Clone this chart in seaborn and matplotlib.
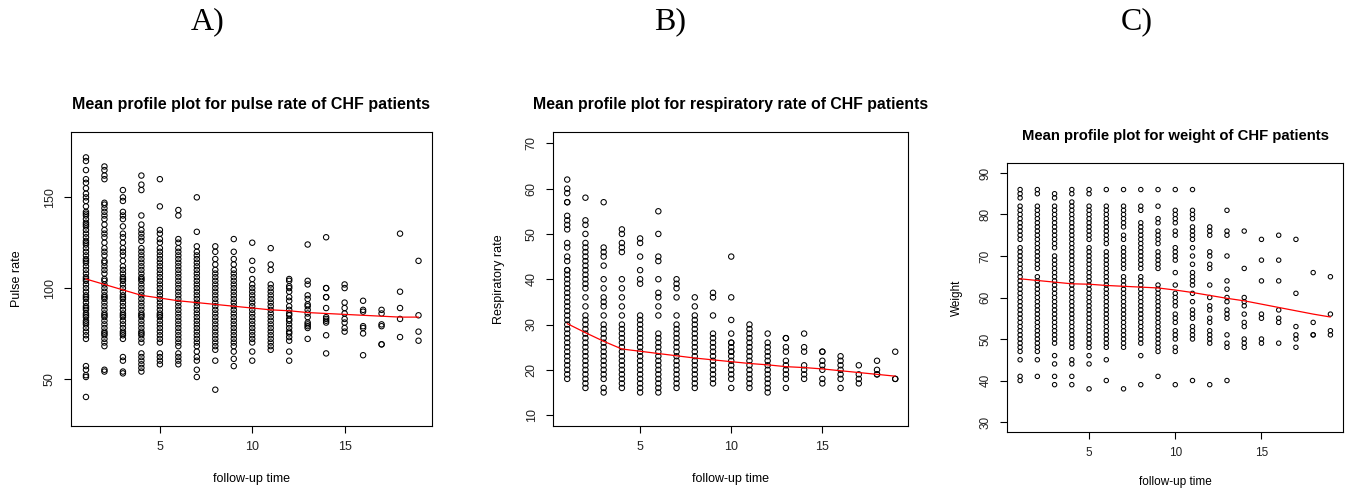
import matplotlib
matplotlib.use("Agg")
import matplotlib.pyplot as plt
import seaborn as sns
import pandas as pd

# ---------------- data ----------------
follow_up = [1, 2, 3, 4, 5, 6, 7, 8, 9, 10, 11, 12, 13, 14, 15, 16, 17, 18, 19]

pulse_by_time = [
    [40, 51, 52, 55, 57, 72, 74, 76, 78, 80, 81, 82, 84, 85, 86, 88, 89, 90, 92, 94, 95, 96, 98, 100, 102, 104,
     105, 106, 108, 110, 112, 114, 115, 116, 118, 120, 122, 124, 125, 126, 128, 130, 132, 134, 135, 136, 138,
     140, 141, 142, 145, 148, 150, 152, 155, 158, 160, 165, 170, 172],
    [54, 55, 68, 70, 72, 74, 75, 76, 78, 80, 82, 84, 85, 86, 88, 90, 92, 94, 95, 96, 98, 100, 102, 104, 105, 108,
     110, 112, 114, 115, 118, 120, 122, 125, 128, 130, 132, 135, 138, 140, 142, 144, 146, 147, 160, 162, 165, 167],
    [53, 54, 60, 62, 72, 74, 75, 76, 78, 80, 82, 84, 85, 86, 88, 90, 92, 94, 95, 96, 98, 100, 102, 104, 105, 106,
     108, 110, 112, 115, 118, 120, 122, 125, 128, 130, 134, 138, 140, 142, 148, 150, 154],
    [54, 56, 58, 60, 62, 64, 70, 72, 74, 75, 76, 78, 80, 82, 84, 85, 86, 88, 90, 92, 94, 96, 98, 100, 102, 104,
     105, 106, 108, 110, 112, 114, 116, 118, 120, 122, 126, 128, 130, 132, 135, 140, 154, 157, 162],
    [58, 60, 62, 64, 70, 72, 74, 76, 78, 80, 82, 84, 85, 86, 88, 90, 92, 94, 96, 98, 100, 102, 104, 106, 108,
     110, 112, 114, 116, 118, 120, 122, 125, 127, 130, 132, 145, 160],
    [58, 60, 62, 64, 68, 70, 72, 74, 76, 78, 80, 82, 84, 86, 88, 90, 92, 94, 96, 98, 100, 102, 104, 106, 108,
     110, 112, 114, 116, 118, 120, 122, 125, 127, 140, 143],
    [51, 55, 60, 62, 65, 68, 70, 72, 74, 76, 78, 80, 82, 84, 86, 88, 90, 92, 94, 96, 98, 100, 102, 104, 106,
     108, 110, 112, 114, 116, 118, 120, 123, 131, 150],
    [44, 60, 66, 68, 70, 72, 74, 76, 78, 80, 82, 84, 86, 88, 90, 92, 94, 96, 98, 100, 102, 104, 106, 108, 110,
     113, 116, 120, 123],
    [57, 61, 65, 68, 70, 72, 74, 76, 78, 80, 82, 84, 86, 88, 90, 92, 94, 96, 98, 100, 102, 104, 106, 108, 110,
     113, 116, 120, 127],
    [60, 65, 70, 72, 74, 76, 78, 80, 82, 84, 86, 88, 90, 92, 94, 96, 98, 100, 102, 105, 110, 115, 125],
    [66, 68, 70, 72, 74, 76, 78, 80, 82, 84, 86, 88, 90, 92, 94, 96, 98, 100, 102, 110, 113, 122],
    [60, 65, 71, 73, 75, 76, 78, 80, 82, 83, 85, 86, 88, 90, 93, 95, 98, 100, 101, 104, 105],
    [72, 78, 79, 80, 81, 84, 86, 88, 90, 91, 94, 96, 102, 104, 124],
    [64, 74, 81, 82, 83, 84, 89, 95, 95, 100, 100, 128],
    [76, 78, 81, 83, 86, 89, 92, 100, 102],
    [63, 75, 78, 79, 87, 88, 93],
    [69, 69, 79, 80, 86, 88],
    [73, 83, 89, 98, 130],
    [71, 76, 85, 115],
]
pulse_mean = [105, 102, 99, 96, 94.5, 93, 92, 91, 90, 89, 88, 87.5, 86.5, 86, 85.5, 85, 84.5, 84, 84]

resp_by_time = [
    [18, 19, 20, 21, 22, 23, 24, 25, 26, 27, 28, 29, 30, 31, 32, 33, 34, 35, 36, 37, 38, 39, 40, 41, 42, 42, 44,
     45, 47, 48, 51, 52, 53, 54, 57, 57, 59, 60, 62],
    [16, 17, 18, 19, 20, 21, 22, 23, 24, 25, 26, 27, 28, 29, 30, 31, 32, 34, 36, 38, 39, 40, 41, 42, 43, 44, 45,
     46, 47, 48, 50, 52, 53, 58],
    [15, 16, 18, 19, 20, 21, 22, 23, 24, 25, 26, 27, 28, 29, 30, 32, 34, 35, 36, 38, 40, 43, 45, 46, 47, 57],
    [16, 17, 18, 19, 20, 21, 22, 23, 24, 25, 26, 27, 28, 29, 30, 32, 34, 36, 38, 40, 46, 47, 48, 50, 51],
    [15, 16, 17, 18, 19, 20, 21, 22, 23, 24, 25, 26, 27, 28, 29, 30, 31, 32, 39, 40, 42, 45, 48, 49],
    [15, 16, 17, 18, 19, 20, 21, 22, 23, 24, 25, 26, 27, 28, 32, 34, 36, 37, 40, 44, 45, 50, 55],
    [16, 17, 18, 19, 20, 21, 22, 23, 24, 25, 26, 27, 28, 29, 30, 32, 36, 38, 39, 40],
    [16, 17, 18, 19, 20, 21, 22, 23, 24, 25, 26, 27, 28, 29, 30, 31, 32, 34, 36],
    [17, 18, 19, 20, 21, 22, 23, 24, 25, 26, 27, 28, 32, 36, 37],
    [16, 18, 19, 20, 21, 22, 23, 24, 24, 25, 26, 26, 28, 31, 36, 45],
    [16, 17, 18, 19, 20, 21, 22, 23, 24, 25, 26, 27, 28, 29, 30],
    [15, 16, 17, 18, 19, 20, 21, 22, 23, 24, 25, 26, 28],
    [16, 18, 19, 20, 21, 22, 24, 25, 27, 27],
    [18, 19, 20, 21, 24, 25, 28],
    [17, 18, 20, 21, 22, 24, 24],
    [16, 18, 19, 20, 21, 22, 23],
    [17, 18, 19, 21],
    [19, 19, 20, 22],
    [18, 18, 24],
]
resp_mean = [30.2, 28.2, 26.3, 24.6, 24.1, 23.6, 23.1, 22.6, 22.2, 21.8, 21.4, 21.1, 20.7, 20.5, 20.2, 19.8,
             19.4, 19.0, 18.6]

weight_by_time = [
    [40, 41, 45, 47, 48, 49, 50, 51, 52, 53, 54, 55, 56, 57, 58, 59, 60, 61, 62, 63, 64, 65, 66, 67, 68, 69, 70,
     71, 72, 74, 75, 76, 77, 78, 79, 80, 81, 82, 84, 85, 86],
    [41, 45, 47, 48, 49, 50, 51, 52, 53, 54, 55, 56, 57, 58, 59, 60, 61, 62, 63, 64, 65, 67, 68, 69, 70, 71, 72,
     73, 74, 75, 76, 77, 78, 79, 80, 81, 82, 85, 86],
    [39, 41, 44, 46, 49, 50, 51, 52, 53, 54, 55, 56, 57, 58, 59, 60, 61, 62, 63, 64, 65, 66, 67, 68, 69, 70, 72,
     73, 74, 75, 76, 77, 78, 79, 80, 81, 82, 84, 85],
    [39, 41, 44, 45, 48, 49, 50, 51, 52, 53, 54, 55, 56, 57, 58, 59, 60, 61, 62, 63, 64, 65, 66, 67, 68, 69, 70,
     71, 72, 73, 74, 75, 76, 77, 78, 79, 80, 81, 82, 83, 85, 86],
    [38, 44, 46, 48, 49, 50, 51, 52, 53, 54, 55, 56, 57, 58, 59, 60, 61, 62, 63, 64, 65, 66, 67, 68, 69, 70, 71,
     72, 74, 75, 76, 77, 78, 79, 80, 81, 82, 85, 86],
    [40, 45, 48, 49, 50, 51, 52, 53, 54, 55, 56, 57, 58, 59, 60, 61, 62, 63, 64, 65, 66, 67, 68, 69, 70, 71, 73,
     74, 75, 76, 77, 78, 79, 80, 81, 82, 86],
    [38, 48, 49, 50, 51, 52, 53, 54, 55, 56, 57, 58, 59, 60, 61, 62, 63, 64, 65, 67, 68, 69, 70, 71, 72, 74, 75,
     77, 78, 79, 80, 81, 82, 86],
    [39, 46, 49, 50, 51, 52, 53, 54, 55, 56, 57, 58, 59, 60, 61, 62, 63, 64, 65, 67, 68, 69, 70, 71, 72, 73, 74,
     75, 76, 77, 78, 81, 82, 86],
    [41, 47, 48, 49, 50, 51, 52, 53, 54, 55, 56, 57, 58, 59, 60, 61, 62, 63, 67, 68, 69, 70, 71, 73, 74, 75, 76,
     78, 79, 82, 86],
    [39, 47, 48, 50, 51, 52, 54, 55, 56, 58, 59, 60, 61, 63, 66, 69, 70, 71, 72, 75, 76, 78, 79, 80, 81, 86],
    [40, 50, 51, 52, 53, 55, 56, 57, 59, 61, 63, 64, 65, 66, 68, 70, 72, 74, 75, 76, 77, 79, 80, 81, 86],
    [39, 49, 50, 51, 52, 54, 55, 57, 58, 60, 63, 67, 68, 70, 71, 75, 76, 77],
    [40, 48, 49, 51, 55, 56, 57, 59, 60, 62, 64, 70, 75, 76, 81],
    [48, 49, 50, 53, 54, 56, 58, 59, 60, 67, 76],
    [49, 50, 55, 56, 64, 69, 74],
    [49, 54, 55, 57, 64, 69, 75],
    [48, 50, 51, 53, 61, 74],
    [51, 51, 54, 66],
    [51, 52, 56, 65],
]
weight_mean = [64.5, 64.1, 63.7, 63.3, 63.2, 62.9, 62.7, 62.5, 62.3, 61.8, 61.2, 60.5, 59.8, 59.2, 58.4, 57.6,
               56.8, 56.0, 55.3]


def long_frame(values_by_time):
    rows = []
    for t, vals in zip(follow_up, values_by_time):
        for v in vals:
            rows.append((t, v))
    return pd.DataFrame(rows, columns=["time", "value"])


# ---------------- style ----------------
sns.set_style("white")
plt.rcParams["font.family"] = ["Liberation Sans", "DejaVu Sans"]
plt.rcParams["text.color"] = "black"
plt.rcParams["axes.labelcolor"] = "black"

W, H = 1346, 492
fig = plt.figure(figsize=(W / 100, H / 100), dpi=100)


def px_axes(left, top, right, bottom):
    return fig.add_axes([left / W, 1 - bottom / H, (right - left) / W, (bottom - top) / H])


panels = [
    dict(box=(71, 132, 432, 426), data=pulse_by_time, mean=pulse_mean, xlim=(0.19, 19.73), ylim=(24, 186),
         yticks=[50, 100, 150], ylabel="Pulse rate", title="Mean profile plot for pulse rate of CHF patients",
         title_y=104, tsize=11.5, lsize=9, tick_size=9, ms=15, letter="A)", letter_x=208,
         ylabel_x=17, xlabel_y=479),
    dict(box=(553, 132, 908, 426), data=resp_by_time, mean=resp_mean, xlim=(0.22, 19.7), ylim=(7.6, 72.5),
         yticks=[10, 20, 30, 40, 50, 60, 70], ylabel="Respiratory rate",
         title="Mean profile plot for respiratory rate of CHF patients",
         title_y=104, tsize=11.4, lsize=9, tick_size=9, ms=15, letter="B)", letter_x=670,
         ylabel_x=499, xlabel_y=479),
    dict(box=(1007, 163, 1343, 432), data=weight_by_time, mean=weight_mean, xlim=(0.24, 19.73), ylim=(27.6, 92.4),
         yticks=[30, 40, 50, 60, 70, 80, 90], ylabel="Weight", title="Mean profile plot for weight of CHF patients",
         title_y=136, tsize=10.7, lsize=8.5, tick_size=8.5, ms=10, letter="C)", letter_x=1137,
         ylabel_x=957, xlabel_y=482),
]

for p in panels:
    l, t, r, b = p["box"]
    ax = px_axes(l, t, r, b)
    df = long_frame(p["data"])
    sns.scatterplot(data=df, x="time", y="value", ax=ax, marker="o", s=p["ms"],
                    facecolor="none", edgecolor="black", linewidth=0.75, legend=False)
    mdf = pd.DataFrame({"time": follow_up, "mean": p["mean"]})
    sns.lineplot(data=mdf, x="time", y="mean", ax=ax, color="red", linewidth=0.9, estimator=None)
    ax.set_xlim(*p["xlim"])
    ax.set_ylim(*p["ylim"])
    ax.set_xticks([5, 10, 15])
    ax.set_yticks(p["yticks"])
    ax.tick_params(axis="both", direction="out", length=5, width=0.8, color="black",
                   labelsize=p["tick_size"], labelcolor="#222222", bottom=True, left=True, pad=6)
    for lab in ax.get_yticklabels():
        lab.set_rotation(90)
        lab.set_va("center")
    for sp in ax.spines.values():
        sp.set_visible(True)
        sp.set_color("black")
        sp.set_linewidth(0.8)
    ax.set_xlabel("follow-up time", fontsize=p["lsize"], va="center")
    ax.set_ylabel(p["ylabel"], fontsize=p["lsize"], va="center")
    ax.xaxis.set_label_coords(0.5, -(p["xlabel_y"] - b) / (b - t))
    ax.yaxis.set_label_coords(-(l - p["ylabel_x"]) / (r - l), 0.5)
    ax.grid(False)
    fig.text(((l + r) / 2) / W, 1 - p["title_y"] / H, p["title"], ha="center", va="center",
             fontsize=p["tsize"], fontweight="bold")
    fig.text(p["letter_x"] / W, 1 - 22 / H, p["letter"], ha="center", va="center",
             fontsize=23, family=["Liberation Serif", "DejaVu Serif"])

fig.savefig("out.png", dpi=100)
